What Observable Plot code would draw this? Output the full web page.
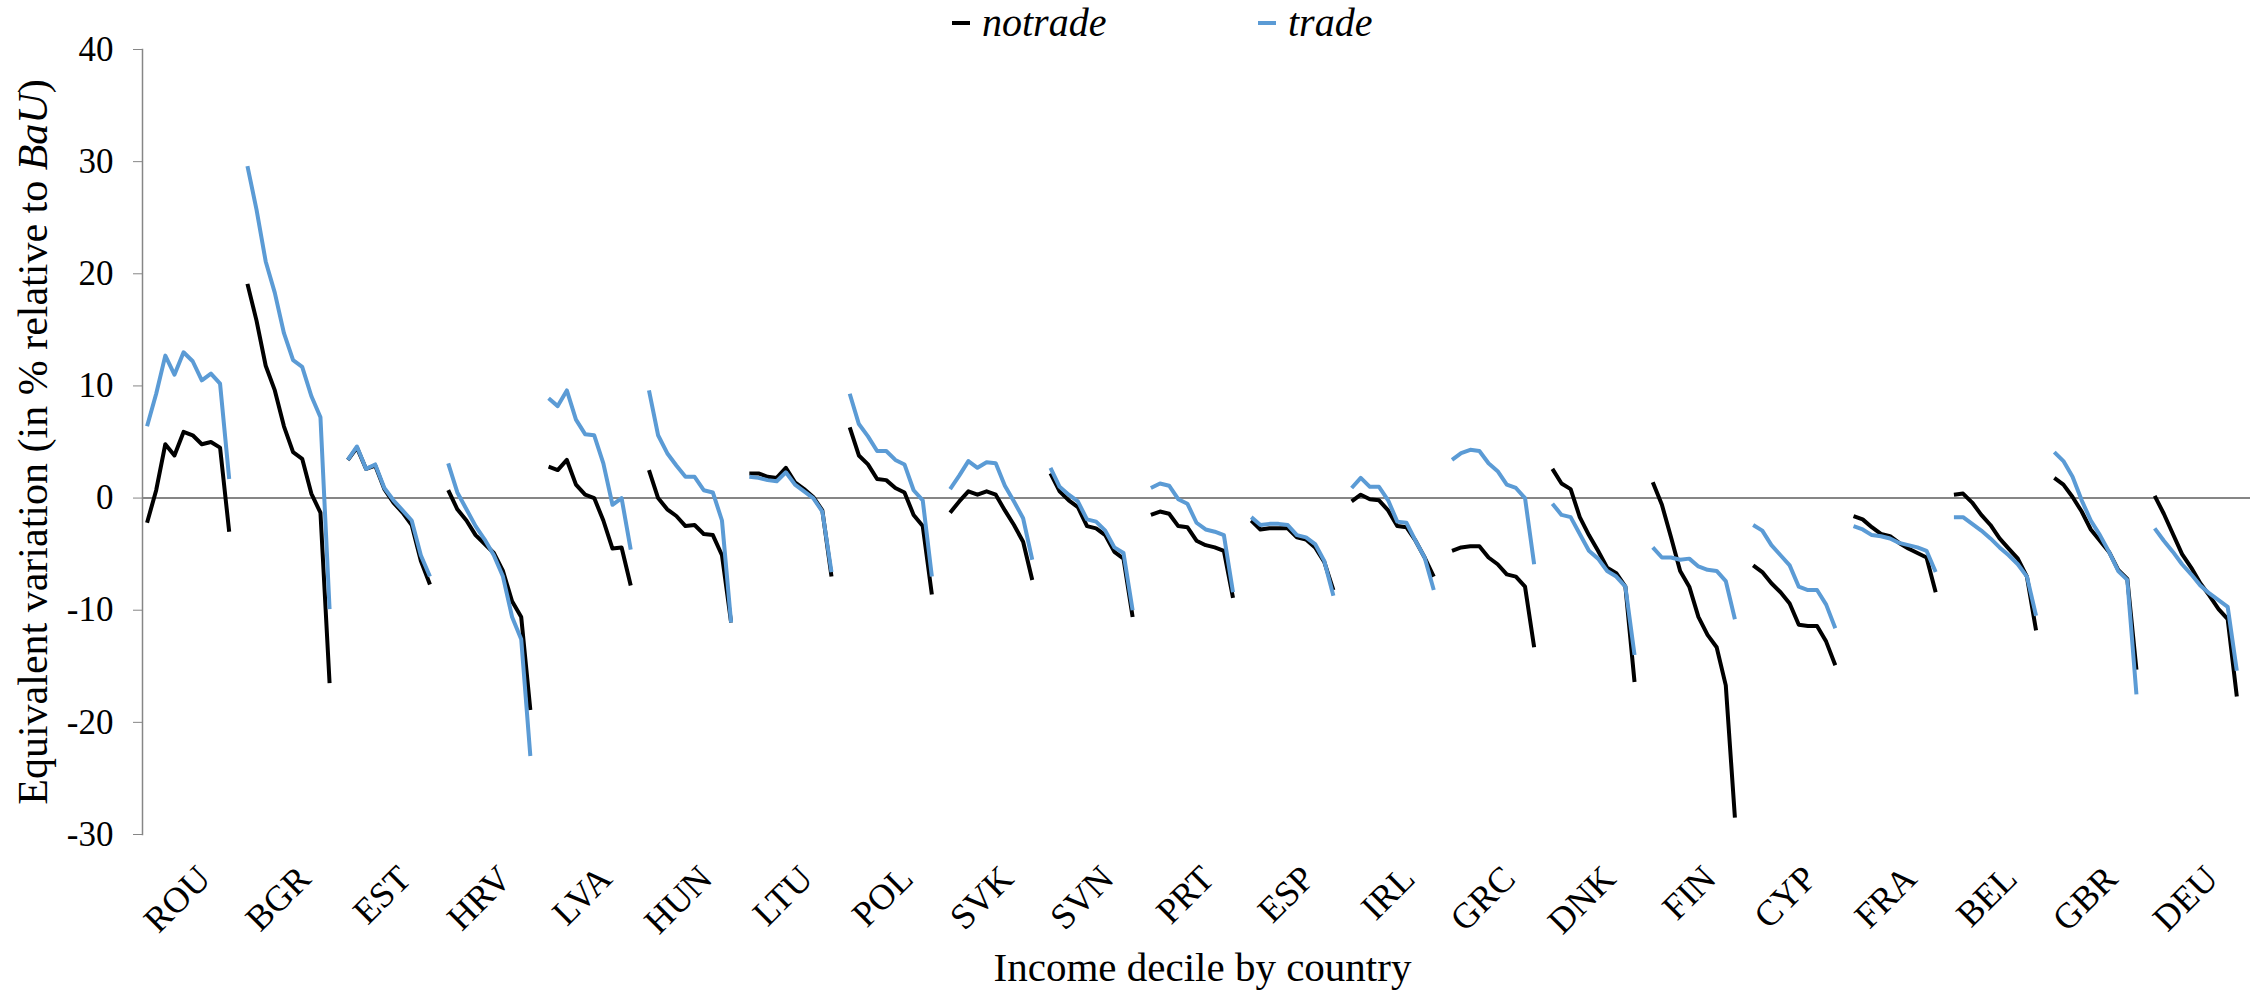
<!DOCTYPE html>
<html>
<head>
<meta charset="utf-8">
<script src="https://cdn.jsdelivr.net/npm/d3@7"></script>
<script src="https://cdn.jsdelivr.net/npm/@observablehq/plot@0.6"></script>
<style>
  html, body { margin: 0; padding: 0; background: #fff; }
  #wrap { position: relative; width: 2251px; height: 992px; font-family: "Liberation Serif", "Times New Roman", serif; }
  #legend { position: absolute; top: 0; left: 0; width: 2251px; height: 46px; z-index: 2; }
  .lg-swatch { position: absolute; top: 21px; height: 4px; }
  .lg-text { position: absolute; top: 0; line-height: 46px; font-size: 40px; font-style: italic; color: #000; white-space: nowrap; }
  #chart { position: absolute; top: 0; left: 0; }
</style>
</head>
<body>
<div id="wrap">
  <div id="legend"></div>
  <div id="chart"></div>
</div>
<script>
// ---- data ----
const countries = ["ROU","BGR","EST","HRV","LVA","HUN","LTU","POL","SVK","SVN","PRT","ESP","IRL","GRC","DNK","FIN","CYP","FRA","BEL","GBR","DEU"];
const seriesNames = ["notrade", "trade"];
const seriesColors = ["#000000", "#5B9BD5"];
const yTicks = [-30, -20, -10, 0, 10, 20, 30, 40];
const yTitle = "Equivalent variation (in % relative to BaU)";
const xTitle = "Income decile by country";

// decile 1..10 for each country, in % relative to BaU
const notrade = [
  [-2.2, 0.7, 4.8, 3.8, 5.9, 5.6, 4.8, 5.0, 4.5, -3.0],   // ROU
  [19.1, 15.8, 11.8, 9.6, 6.4, 4.1, 3.5, 0.4, -1.3, -16.5], // BGR
  [3.4, 4.5, 2.6, 2.9, 0.8, -0.4, -1.3, -2.4, -5.6, -7.7], // EST
  [0.7, -1.0, -2.0, -3.3, -4.1, -4.9, -6.5, -9.2, -10.6, -18.9], // HRV
  [2.8, 2.5, 3.4, 1.2, 0.3, 0.0, -2.0, -4.5, -4.4, -7.8],  // LVA
  [2.5, 0.0, -1.0, -1.6, -2.5, -2.4, -3.2, -3.3, -5.1, -11.1], // HUN
  [2.2, 2.2, 1.9, 1.8, 2.7, 1.4, 0.8, 0.1, -1.1, -7.0],    // LTU
  [6.3, 3.8, 3.0, 1.7, 1.6, 0.9, 0.5, -1.5, -2.5, -8.6],   // POL
  [-1.3, -0.3, 0.6, 0.3, 0.6, 0.3, -1.1, -2.4, -3.9, -7.3], // SVK
  [2.2, 0.6, -0.2, -0.8, -2.5, -2.7, -3.3, -4.8, -5.4, -10.6], // SVN
  [-1.5, -1.2, -1.4, -2.5, -2.6, -3.8, -4.2, -4.4, -4.7, -8.9], // PRT
  [-2.0, -2.8, -2.7, -2.7, -2.7, -3.5, -3.7, -4.4, -5.7, -8.2], // ESP
  [-0.3, 0.3, -0.1, -0.2, -1.1, -2.5, -2.6, -3.8, -5.3, -7.0], // IRL
  [-4.7, -4.4, -4.3, -4.3, -5.3, -5.9, -6.8, -7.0, -7.9, -13.3], // GRC
  [2.6, 1.3, 0.8, -1.7, -3.3, -4.7, -6.2, -6.7, -7.9, -16.4], // DNK
  [1.4, -0.6, -3.5, -6.5, -7.9, -10.6, -12.2, -13.3, -16.7, -28.5], // FIN
  [-6.0, -6.6, -7.6, -8.4, -9.4, -11.3, -11.4, -11.4, -12.8, -14.9], // CYP
  [-1.6, -1.9, -2.6, -3.2, -3.4, -4.0, -4.5, -4.9, -5.3, -8.4], // FRA
  [0.3, 0.4, -0.4, -1.5, -2.4, -3.6, -4.5, -5.4, -7.0, -11.8], // BEL
  [1.8, 1.2, 0.1, -1.2, -2.8, -3.8, -4.8, -6.4, -7.2, -15.3], // GBR
  [0.2, -1.4, -3.2, -5.0, -6.2, -7.6, -8.7, -9.9, -10.8, -17.7]  // DEU
];
const trade = [
  [6.4, 9.3, 12.7, 11.0, 13.0, 12.2, 10.5, 11.1, 10.2, 1.7],   // ROU
  [29.6, 25.7, 21.1, 18.3, 14.7, 12.3, 11.7, 9.1, 7.2, -9.9],  // BGR
  [3.4, 4.6, 2.6, 3.0, 0.9, -0.2, -1.1, -2.0, -5.1, -7.0],     // EST
  [3.1, 0.5, -1.0, -2.5, -3.7, -5.1, -7.0, -10.6, -12.6, -23.0], // HRV
  [8.9, 8.2, 9.6, 7.0, 5.7, 5.6, 3.1, -0.6, 0.0, -4.6],        // LVA
  [9.6, 5.6, 4.0, 2.9, 1.9, 1.9, 0.7, 0.5, -2.0, -11.1],       // HUN
  [1.9, 1.8, 1.6, 1.5, 2.3, 1.2, 0.6, 0.0, -1.2, -6.6],        // LTU
  [9.3, 6.6, 5.5, 4.2, 4.2, 3.4, 3.0, 0.7, -0.2, -7.0],        // POL
  [0.8, 2.0, 3.3, 2.7, 3.2, 3.1, 1.1, -0.3, -1.8, -5.5],       // SVK
  [2.7, 1.0, 0.3, -0.3, -1.9, -2.1, -2.9, -4.4, -4.9, -10.0],  // SVN
  [0.9, 1.3, 1.1, -0.1, -0.5, -2.2, -2.8, -3.0, -3.3, -8.4],   // PRT
  [-1.7, -2.4, -2.3, -2.3, -2.4, -3.3, -3.5, -4.1, -5.6, -8.7], // ESP
  [0.9, 1.8, 1.0, 1.0, -0.2, -2.1, -2.2, -3.8, -5.3, -8.2],    // IRL
  [3.4, 4.0, 4.3, 4.2, 3.1, 2.4, 1.2, 0.9, 0.0, -5.9],         // GRC
  [-0.5, -1.5, -1.7, -3.2, -4.7, -5.4, -6.5, -7.0, -7.9, -14.0], // DNK
  [-4.4, -5.3, -5.3, -5.5, -5.4, -6.1, -6.4, -6.5, -7.4, -10.8], // FIN
  [-2.4, -2.9, -4.2, -5.1, -6.0, -7.9, -8.2, -8.2, -9.5, -11.6], // CYP
  [-2.5, -2.8, -3.3, -3.4, -3.6, -4.0, -4.2, -4.4, -4.7, -6.6], // FRA
  [-1.7, -1.7, -2.3, -2.9, -3.6, -4.4, -5.1, -5.9, -7.0, -10.5], // BEL
  [4.1, 3.3, 1.9, -0.2, -2.0, -3.3, -4.8, -6.5, -7.3, -17.5],  // GBR
  [-2.7, -3.8, -4.8, -5.9, -6.8, -7.8, -8.5, -9.1, -9.7, -15.4] // DEU
];

// ---- build tidy table: 10 deciles per country + one empty slot as separator ----
const SLOTS = 11;
function rowsFor(values, series) {
  const out = [];
  countries.forEach((c, i) => values[i].forEach((v, d) => out.push({country: c, series, decile: d + 1, idx: i * SLOTS + d, value: v})));
  return out;
}
const rowsNo = rowsFor(notrade, "notrade");
const rowsTr = rowsFor(trade, "trade");
const labelRows = countries.map((c, i) => ({country: c, idx: i * SLOTS + 4.5}));

const font = "'Liberation Serif', 'Times New Roman', serif";
const chart = Plot.plot({
  width: 2251,
  height: 992,
  marginTop: 49,
  marginBottom: 158,
  marginLeft: 142,
  marginRight: 1,
  style: {fontFamily: font, background: "transparent", overflow: "visible"},
  x: {type: "linear", domain: [-0.5, countries.length * SLOTS - 0.5], axis: null},
  y: {domain: [-30, 40], axis: null},
  marks: [
    Plot.frame({anchor: "left", stroke: "#868686", strokeWidth: 1.5}),
    Plot.ruleY([0], {stroke: "#868686", strokeWidth: 2}),
    Plot.axisY(yTicks, {tickSize: 9, tickPadding: 20, fontSize: 35, stroke: "#868686", fill: "#000", label: null, tickFormat: d => String(d)}),
    Plot.line(rowsNo, {x: "idx", y: "value", z: "country", stroke: seriesColors[0], strokeWidth: 4, strokeLinejoin: "round", strokeLinecap: "butt"}),
    Plot.line(rowsTr, {x: "idx", y: "value", z: "country", stroke: seriesColors[1], strokeWidth: 4, strokeLinejoin: "round", strokeLinecap: "butt"}),
    Plot.text(labelRows, {x: "idx", text: "country", frameAnchor: "bottom", dy: 38, dx: 16, rotate: -45, textAnchor: "end", lineAnchor: "middle", fontSize: 36, fill: "#000"}),
    Plot.text([xTitle], {frameAnchor: "bottom", dx: 6, dy: 146, lineAnchor: "bottom", fontSize: 41, fill: "#000", className: "xtitle"}),
    Plot.text([yTitle], {frameAnchor: "left", dx: -96, rotate: -90, textAnchor: "middle", lineAnchor: "bottom", fontSize: 42, fill: "#000", className: "ytitle"})
  ]
});
document.getElementById("chart").appendChild(chart);

// italic "BaU" inside the y title
d3.select(chart).selectAll("g.ytitle text").each(function() {
  const t = d3.select(this);
  const s = t.text();
  const k = s.indexOf("BaU");
  if (k >= 0) {
    t.text(null);
    t.append("tspan").text(s.slice(0, k));
    t.append("tspan").attr("font-style", "italic").text("BaU");
    t.append("tspan").text(s.slice(k + 3));
  }
});

// legend (HTML, above the plot)
const legend = d3.select("#legend");
const legendPos = [{sw: 952, tx: 982}, {sw: 1258, tx: 1288}];
seriesNames.forEach((name, i) => {
  legend.append("div").attr("class", "lg-swatch")
    .style("left", legendPos[i].sw + "px").style("width", "18px").style("background", seriesColors[i]);
  legend.append("div").attr("class", "lg-text").style("left", legendPos[i].tx + "px").text(name);
});
</script>
</body>
</html>
